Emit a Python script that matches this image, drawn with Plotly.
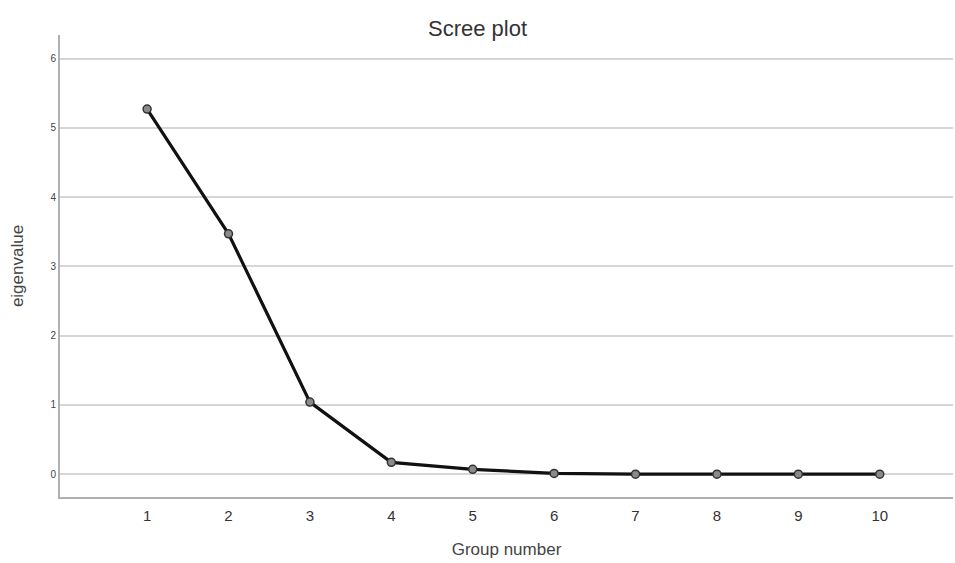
import plotly.graph_objects as go

groups = [1, 2, 3, 4, 5, 6, 7, 8, 9, 10]
eigenvalues = [5.27, 3.47, 1.04, 0.17, 0.07, 0.01, 0.0, 0.0, 0.0, 0.0]
y_ticks = [0, 1, 2, 3, 4, 5, 6]

fig = go.Figure()
fig.add_trace(go.Scatter(
    x=groups, y=eigenvalues, mode="lines+markers",
    line=dict(color="#111111", width=3.2),
    marker=dict(size=8, color="#8a8a8a", line=dict(color="#333333", width=1.5)),
    showlegend=False,
))

fig.update_layout(
    width=955, height=563,
    margin=dict(l=60, r=2, t=35, b=66),
    paper_bgcolor="white", plot_bgcolor="white",
    font=dict(family="Liberation Sans, Arial, sans-serif", color="#333333"),
    title=dict(text="Scree plot", x=0.5, xanchor="center", y=0.95, yanchor="middle",
               font=dict(size=22, color="#333333")),
)
fig.update_xaxes(
    range=[-0.07, 10.9], tickvals=groups, ticktext=[str(g) for g in groups],
    showgrid=False, zeroline=False,
    showline=True, linecolor="#b0b0b0", linewidth=2,
    tickfont=dict(size=15, color="#333333"),
    ticks="outside", ticklen=4, tickcolor="rgba(0,0,0,0)",
    title=dict(text="Group number", font=dict(size=17, color="#444444"), standoff=20),
)
fig.update_yaxes(
    range=[-0.33, 6.34], tickvals=y_ticks, ticktext=[str(v) for v in y_ticks],
    showgrid=True, gridcolor="#d6d6d6", gridwidth=1.5, zeroline=False,
    showline=True, linecolor="#b0b0b0", linewidth=2,
    tickfont=dict(size=10, color="#444444"), ticks="",
    title=dict(text="eigenvalue", font=dict(size=17, color="#444444"), standoff=22),
)

fig.write_html(
    "out.html",
    config={"displayModeBar": False},
    post_script="document.body.style.margin='0';document.documentElement.style.overflow='hidden';",
)
